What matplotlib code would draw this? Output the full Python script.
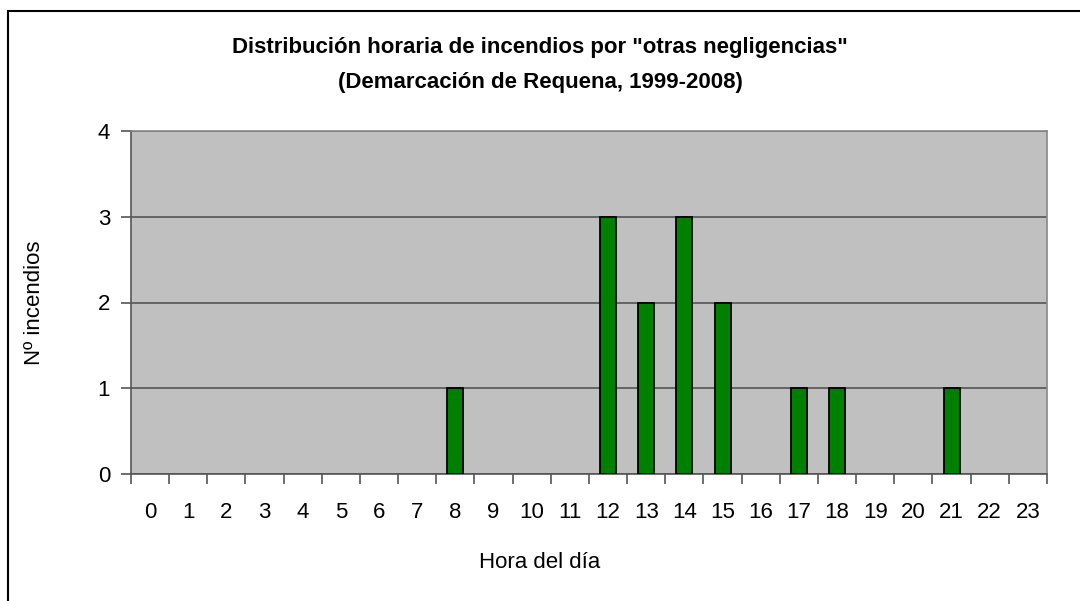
import matplotlib
matplotlib.use('Agg')
from matplotlib import pyplot as plt
from matplotlib.patches import Rectangle
import numpy as np

hours = list(range(24))
counts = [0, 0, 0, 0, 0, 0, 0, 0, 1, 0, 0, 0, 3, 2, 3, 2, 0, 1, 1, 0, 0, 1, 0, 0]
title = 'Distribución horaria de incendios por "otras negligencias"\n(Demarcación de Requena, 1999-2008)'
xlabel = 'Hora del día'
ylabel = 'Nº incendios'

plt.rcParams['font.family'] = ['Liberation Sans', 'DejaVu Sans']

fig = plt.figure(figsize=(10.8, 6.01), dpi=100)
W, H = 1080, 601
ax = fig.add_axes([131 / W, 1 - 474 / H, (1047 - 131) / W, (474 - 131) / H])
ax.set_facecolor('#c0c0c0')

# figure frame (runs off right and bottom edges)
fig.patches.append(Rectangle((8 / W, -0.1), 1.2, 1 - 11 / H + 0.1, transform=fig.transFigure,
                             fill=False, edgecolor='black', linewidth=1.5))

# no outline for empty hours
lws = [1.3 if c > 0 else 0 for c in counts]
ax.bar(hours, counts, width=0.42, color='#008000', edgecolor='black', linewidth=lws, zorder=3)

ax.set_xlim(-0.5, 23.5)
ax.set_ylim(0, 4)
ax.set_yticks([0, 1, 2, 3, 4])
ax.yaxis.grid(True, color='#555555', linewidth=1.2, zorder=1)
ax.set_axisbelow(True)

# category ticks at boundaries, labels at centers
ax.set_xticks(np.arange(-0.5, 24, 1))
ax.set_xticklabels([])
ax.set_xticks(hours, minor=True)
ax.set_xticklabels([str(h) for h in hours], minor=True)
ax.tick_params(axis='x', which='major', direction='out', length=7, color='#555555', width=1.2)
ax.tick_params(axis='x', which='minor', length=0, pad=20, labelsize=16)
ax.tick_params(axis='y', direction='out', length=7, color='#555555', width=1.2, labelsize=16, pad=8)

for s in ['top', 'right']:
    ax.spines[s].set_color('#888888')
    ax.spines[s].set_linewidth(1.2)
for s in ['left', 'bottom']:
    ax.spines[s].set_color('#555555')
    ax.spines[s].set_linewidth(1.2)

ax.set_xlabel(xlabel, fontsize=16)
ax.xaxis.set_label_coords((540 - 131) / 916, -0.227)
ax.set_ylabel(ylabel, fontsize=16)
ax.yaxis.set_label_coords(-(131 - 45) / 916, 0.5)
fig.text(540 / W, 1 - 65 / H, title, ha='center', va='center', fontsize=16,
         fontweight='bold', linespacing=1.85)

fig.savefig('out.png', dpi=100)
